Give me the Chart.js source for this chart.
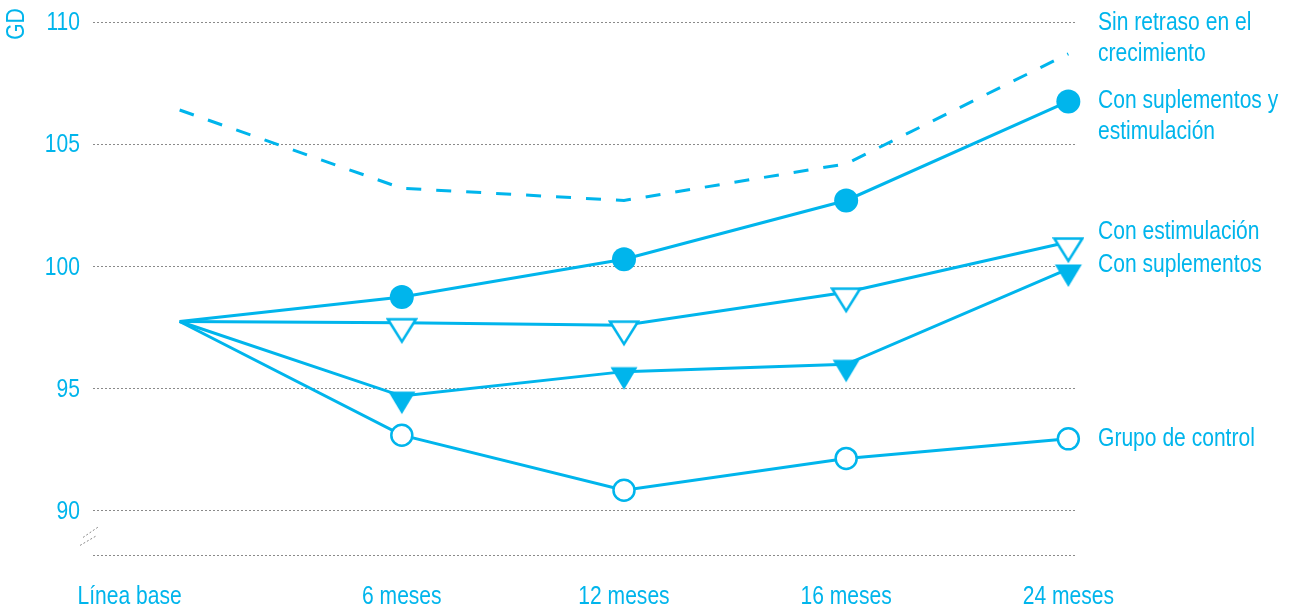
<!DOCTYPE html>
<html>
<head>
<meta charset="utf-8">
<script src="https://cdn.jsdelivr.net/npm/chart.js@4"></script>
<style>
  html, body { margin: 0; padding: 0; background: #fff; }
  #wrap { width: 1290px; height: 612px; }
</style>
</head>
<body>
<div id="wrap"><canvas id="myChart" width="1290" height="612"></canvas></div>
<script>
// datos
const categories = ['Línea base', '6 meses', '12 meses', '16 meses', '24 meses'];
const yTicks = [90, 95, 100, 105, 110];

const sinRetraso = [106.4, 103.2, 102.7, 104.2, 108.7];
const suplEstim = [97.75, 98.75, 100.3, 102.7, 106.75];
const estimulacion = [97.75, 97.7, 97.6, 98.95, 101.0];
const suplementos = [97.75, 94.7, 95.7, 96.0, 99.9];
const control = [97.75, 93.1, 90.85, 92.15, 92.95];

const seriesNames = [
    ['Sin retraso en el', 'crecimiento'],
    ['Con suplementos y', 'estimulación'],
    ['Con estimulación'],
    ['Con suplementos'],
    ['Grupo de control']
];

const cyan = '#00b5ec';
const grey = '#8a8a8a';
const fontFam = "'Liberation Sans', Arial, sans-serif";
const narrow = 0.81; // la fuente original es condensada

// triangulos hacia abajo, con el lado de arriba casi sobre la linea
function makeTriangle(filled) {
    const c = document.createElement('canvas');
    c.width = 32;
    c.height = 46;
    const g = c.getContext('2d');
    g.beginPath();
    if (filled) {
        g.moveTo(2.5, 18.5);
        g.lineTo(29.5, 18.5);
        g.lineTo(16, 41);
    } else {
        g.moveTo(2, 19.5);
        g.lineTo(30, 19.5);
        g.lineTo(16, 42);
    }
    g.closePath();
    if (filled) {
        g.fillStyle = cyan;
        g.fill();
    } else {
        g.fillStyle = '#fff';
        g.fill();
        g.lineWidth = 2.5;
        g.strokeStyle = cyan;
        g.stroke();
    }
    return c;
}
const triOpen = makeTriangle(false);
const triFull = makeTriangle(true);

function toPoints(arr) {
    return arr.map((v, i) => ({ x: i, y: v }));
}
function noFirst(style) {
    return categories.map((c, i) => i === 0 ? 0 : style);
}

// texto condensado: escala horizontal
function narrowText(ctx, txt, x, y, align) {
    ctx.save();
    ctx.translate(x, y);
    ctx.scale(narrow, 1);
    ctx.textAlign = align;
    ctx.fillText(txt, 0, 0);
    ctx.restore();
}

const labelOffsets = [-31, -1, -10, -4, 0];

const extras = {
    id: 'extras',
    afterDraw(chart) {
        const ctx = chart.ctx;
        const xs = chart.scales.x;
        const ys = chart.scales.y;
        const area = chart.chartArea;
        ctx.save();
        ctx.fillStyle = cyan;
        ctx.font = '26px ' + fontFam;
        ctx.textBaseline = 'middle';

        // etiquetas del eje y
        yTicks.forEach(v => {
            narrowText(ctx, String(v), area.left - 13, ys.getPixelForValue(v) + 1, 'right');
        });

        // etiquetas del eje x
        categories.forEach((c, i) => {
            const px = xs.getPixelForValue(i);
            if (i === 0) narrowText(ctx, c, px + 2, 597, 'right');
            else narrowText(ctx, c, px, 597, 'center');
        });

        // nombres de las series al final de cada linea
        chart.data.datasets.forEach((ds, k) => {
            const last = ds.data[ds.data.length - 1];
            const py = ys.getPixelForValue(last.y) + labelOffsets[k];
            seriesNames[k].forEach((line, j) => {
                narrowText(ctx, line, area.right + 23, py + j * 31, 'left');
            });
        });

        // titulo GD
        ctx.save();
        ctx.translate(17, ys.getPixelForValue(110) + 2);
        ctx.rotate(-Math.PI / 2);
        narrowText(ctx, 'GD', 0, 0, 'center');
        ctx.restore();

        // corte del eje
        const by = ys.getPixelForValue(89);
        ctx.strokeStyle = grey;
        ctx.lineWidth = 1;
        ctx.setLineDash([2, 2]);
        ctx.beginPath();
        ctx.moveTo(area.left - 13, by + 10);
        ctx.lineTo(area.left + 4, by);
        ctx.moveTo(area.left - 10, by + 2);
        ctx.lineTo(area.left + 6, by - 9);
        ctx.stroke();
        ctx.restore();
    }
};

const ctx = document.getElementById('myChart').getContext('2d');
new Chart(ctx, {
    type: 'line',
    data: {
        datasets: [
            {
                data: toPoints(sinRetraso),
                borderColor: cyan,
                borderWidth: 3,
                borderDash: [15, 15],
                pointRadius: 0,
                fill: false
            },
            {
                data: toPoints(suplEstim),
                borderColor: cyan,
                borderWidth: 3,
                pointStyle: 'circle',
                pointRadius: noFirst(12),
                pointBackgroundColor: cyan,
                pointBorderWidth: 0,
                fill: false
            },
            {
                data: toPoints(estimulacion),
                borderColor: cyan,
                borderWidth: 3,
                pointStyle: noFirst(triOpen),
                pointRadius: noFirst(14),
                fill: false
            },
            {
                data: toPoints(suplementos),
                borderColor: cyan,
                borderWidth: 3,
                pointStyle: noFirst(triFull),
                pointRadius: noFirst(14),
                fill: false
            },
            {
                data: toPoints(control),
                borderColor: cyan,
                borderWidth: 3,
                pointStyle: 'circle',
                pointRadius: noFirst(10.5),
                pointBackgroundColor: '#fff',
                pointBorderColor: cyan,
                pointBorderWidth: 2.5,
                fill: false
            }
        ]
    },
    options: {
        responsive: false,
        animation: false,
        events: [],
        clip: false,
        layout: { padding: { left: 0, right: 215, top: 22, bottom: 57 } },
        plugins: {
            legend: { display: false },
            tooltip: { enabled: false }
        },
        scales: {
            x: {
                type: 'linear',
                display: false,
                min: -0.39,
                max: 4.03
            },
            y: {
                min: 88.2,
                max: 110,
                afterFit(scale) { scale.width = 93; },
                afterBuildTicks(scale) {
                    scale.ticks = [{ value: 88.2 }].concat(yTicks.map(v => ({ value: v })));
                },
                grid: {
                    drawTicks: false,
                    color: grey,
                    lineWidth: 1
                },
                border: { display: false, dash: [2, 2] },
                ticks: { display: false }
            }
        }
    },
    plugins: [extras]
});
</script>
</body>
</html>
